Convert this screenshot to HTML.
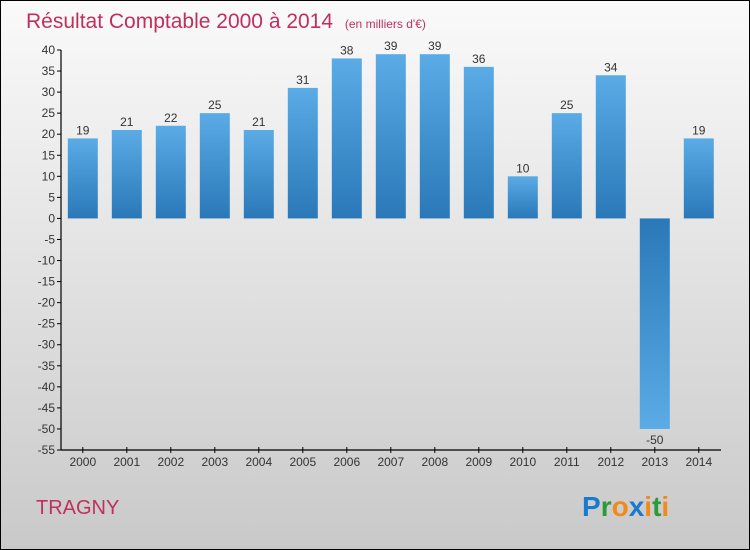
<!DOCTYPE html>
<html><head><meta charset="utf-8"><style>
body{margin:0;}
svg{display:block;font-family:"Liberation Sans",sans-serif;}
</style></head><body>
<svg id="chart" width="750" height="550" viewBox="0 0 750 550">
<defs>
<linearGradient id="bg" x1="0" y1="0" x2="0" y2="1"><stop offset="0" stop-color="#fafafa"/><stop offset="1" stop-color="#c9c9c9"/></linearGradient>
<linearGradient id="pos" x1="0" y1="0" x2="0" y2="1"><stop offset="0" stop-color="#5aabe6"/><stop offset="1" stop-color="#2a78b8"/></linearGradient>
<linearGradient id="neg" x1="0" y1="0" x2="0" y2="1"><stop offset="0" stop-color="#2a78b8"/><stop offset="1" stop-color="#5aabe6"/></linearGradient>
</defs>
<rect x="0.5" y="0.5" width="749" height="549" fill="url(#bg)" stroke="#000"/>
<text x="26" y="28" font-size="21" fill="#c0305e">Résultat Comptable 2000 à 2014 <tspan font-size="12" dx="6">(en milliers d'€)</tspan></text>
<text x="36" y="514" font-size="20" fill="#c0305e">TRAGNY</text>
<text x="582" y="516" font-size="28" font-weight="bold"><tspan fill="#1a7ad0">P</tspan><tspan fill="#2a9a3a">r</tspan><tspan fill="#f08a1c">o</tspan><tspan fill="#1a7ad0">x</tspan><tspan fill="#f08a1c">i</tspan><tspan fill="#2a9a3a">t</tspan><tspan fill="#f08a1c">i</tspan></text>
<g id="axes"></g>
<g id="bars"></g>
</svg>
<script>
const years=["2000","2001","2002","2003","2004","2005","2006","2007","2008","2009","2010","2011","2012","2013","2014"];
const values=[19,21,22,25,21,31,38,39,39,36,10,25,34,-50,19];
const yTicks=[40,35,30,25,20,15,10,5,0,-5,-10,-15,-20,-25,-30,-35,-40,-45,-50,-55];
const NS="http://www.w3.org/2000/svg";
const yMin=-55,yMax=40,plotTop=50,plotBot=450;
const yS=v=>plotTop+(yMax-v)/(yMax-yMin)*(plotBot-plotTop);
const xS=i=>82.8+i*44;
const axesG=document.getElementById('axes'),barsG=document.getElementById('bars');
function mk(t,a,p){const e=document.createElementNS(NS,t);for(const k in a)e.setAttribute(k,a[k]);p.appendChild(e);return e;}
let ln=mk('line',{x1:61,y1:plotTop,x2:61,y2:plotBot,stroke:'#000','stroke-width':1.2},axesG);


ln=mk('line',{x1:61,y1:plotBot,x2:721,y2:plotBot,stroke:'#000','stroke-width':1.2},axesG);


yTicks.forEach(v=>{
 mk('line',{x1:57,y1:yS(v),x2:61,y2:yS(v),stroke:'#000'},axesG);
 const t=mk('text',{x:55,y:yS(v)+4,'font-size':12,'text-anchor':'end',fill:'#333'},axesG);
 t.textContent=v;
 
 
});
years.forEach((yr,i)=>{
 mk('line',{x1:xS(i),y1:plotBot-3,x2:xS(i),y2:plotBot+3,stroke:'#000'},axesG);
 const t=mk('text',{x:xS(i),y:plotBot+16,'font-size':12,'text-anchor':'middle',fill:'#333'},axesG);
 t.textContent=yr;
 
 
 const v=values[i],y0=yS(0),yv=yS(v);
 const r=mk('rect',{x:xS(i)-15,y:Math.min(y0,yv),width:30,height:Math.abs(yv-y0),fill:v>=0?'url(#pos)':'url(#neg)'},barsG);
 
 
 const lb=mk('text',{x:xS(i),y:v>=0?yv-4:yv+15,'font-size':12,'text-anchor':'middle',fill:'#333'},barsG);
 lb.textContent=v;
 
 
});
</script>
</body></html>
